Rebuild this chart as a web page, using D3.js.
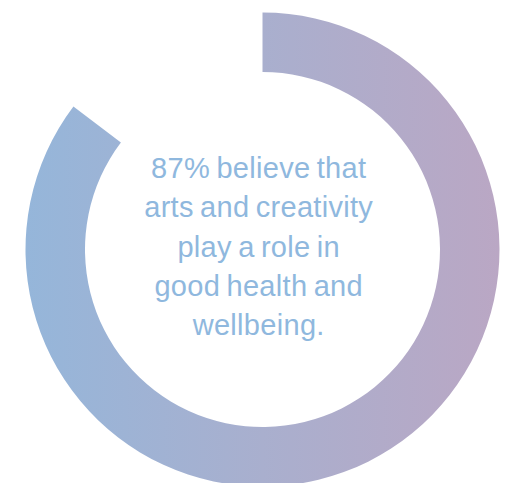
<!DOCTYPE html>
<html>
<head>
<meta charset="utf-8">
<script src="https://cdn.jsdelivr.net/npm/d3@7"></script>
<style>
  html, body { margin: 0; padding: 0; background: #ffffff; }
  #donut { width: 509px; height: 483px; overflow: hidden; }
</style>
</head>
<body>
<div id="donut"></div>
<script>
// Data
var segments = ["believe", "rest"];
var shares = [85.3, 14.7];           // arc as drawn (label says 87%)
var labelLines = ["87% believe that", "arts and creativity", "play a role in", "good health and", "wellbeing."];

// SVG attributes
var width = 509;
var height = 483;
var cx = 262.5;
var cy = 249.5;
var outerR = 237;
var innerR = 177.5;

var svg = d3.select("#donut")
    .append("svg")
    .attr("width", width)
    .attr("height", height);

var ring = svg.append("g")
    .attr("transform", `translate(${cx}, ${cy})`);

// Horizontal gradient, blue on the left to mauve on the right
// (userSpaceOnUse -> coords are relative to the ring group)
var grad = svg.append("defs")
    .append("linearGradient")
    .attr("id", "ringGrad")
    .attr("gradientUnits", "userSpaceOnUse")
    .attr("x1", -outerR).attr("y1", 0)
    .attr("x2", outerR).attr("y2", 0);
grad.append("stop").attr("offset", "0%").attr("stop-color", "#95b6da");
grad.append("stop").attr("offset", "50%").attr("stop-color", "#a9afce");
grad.append("stop").attr("offset", "100%").attr("stop-color", "#baa7c4");

// Pie layout, starting at 12 o'clock going clockwise
var pie = d3.pie()
    .sort(null)
    .value(function(d) { return d; });

var arc = d3.arc()
    .innerRadius(innerR)
    .outerRadius(outerR);

ring.selectAll("path")
    .data(pie(shares))
    .enter()
    .append("path")
    .attr("d", arc)
    .attr("class", function(d, i) { return "slice " + segments[i]; })
    .attr("fill", function(d, i) { return i === 0 ? "url(#ringGrad)" : "none"; });

// Centre label
var textX = 258.7;
var firstBaseline = 178;
var lineGap = 39.3;

svg.append("g")
    .attr("class", "label")
    .selectAll("text")
    .data(labelLines)
    .enter()
    .append("text")
    .attr("x", textX)
    .attr("y", function(d, i) { return firstBaseline + i * lineGap; })
    .attr("text-anchor", "middle")
    .attr("font-family", "'Liberation Sans', Arial, sans-serif")
    .attr("font-size", 29)
    .attr("letter-spacing", "0.3px")
    .attr("word-spacing", "-2px")
    .attr("fill", "#8fb8de")
    .text(function(d) { return d; });
</script>
</body>
</html>
